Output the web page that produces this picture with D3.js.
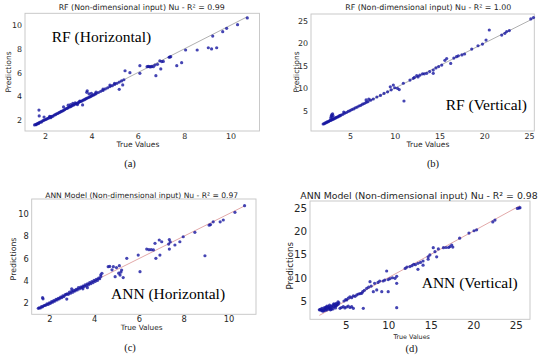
<!DOCTYPE html>
<html><head><meta charset="utf-8">
<script src="https://cdn.jsdelivr.net/npm/d3@7/dist/d3.min.js"></script>
<style>body{margin:0;background:#fff}svg{display:block}</style>
</head><body>
<script>
// ---------- DATA ----------
const titles = [
  "RF (Non-dimensional input) Nu - R\u00B2 = 0.99",
  "RF (Non-dimensional input) Nu - R\u00B2 = 1.00",
  "ANN Model (Non-dimensional input) Nu - R\u00B2 = 0.97",
  "ANN Model (Non-dimensional input) Nu - R\u00B2 = 0.98"
];
const tags = ["RF (Horizontal)", "RF (Vertical)", "ANN (Horizontal)", "ANN (Vertical)"];
const captions = ["(a)", "(b)", "(c)", "(d)"];
const xLabel = "True Values";
const yLabel = "Predictions";
const ticksH = [2, 4, 6, 8, 10];
const ticksV = [5, 10, 15, 20, 25];

// [true, predicted]
const rfHorizontal = [
 [1.55,1.58],[1.6,1.62],[1.62,1.6],[1.65,1.68],[1.7,1.72],[1.72,1.7],[1.75,1.78],[1.8,1.82],[1.85,1.84],[1.9,1.93],
 [1.95,1.97],[2.0,2.02],[2.05,2.06],[2.1,2.12],[2.15,2.15],[2.2,2.23],[2.25,2.28],[2.3,2.3],[2.35,2.33],[2.4,2.42],
 [2.45,2.45],[2.5,2.52],[2.55,2.55],[2.6,2.62],[2.65,2.66],[2.7,2.72],[2.75,2.76],[2.8,2.82],[2.85,2.88],[2.9,2.95],
 [2.95,2.98],[3.0,3.05],[3.05,3.1],[3.1,3.12],[3.15,3.18],[3.2,3.25],[3.25,3.28],[3.3,3.35],[3.35,3.38],[3.4,3.42],
 [3.45,3.48],[3.5,3.55],[3.55,3.58],[3.6,3.62],[3.65,3.68],[3.7,3.72],[3.75,3.78],[3.8,3.83],[3.85,3.88],[3.9,3.92],
 [3.95,3.97],[4.0,4.02],[4.05,4.08],[4.1,4.12],[4.15,4.18],[4.2,4.22],[4.3,4.32],[4.4,4.42],[4.5,4.5],[4.6,4.62],
 [4.7,4.72],[4.8,4.82],[4.9,4.9],[5.0,5.0],[5.1,5.1],[5.2,5.2],[5.3,5.3],[5.4,5.4],
 [1.74,2.84],[1.75,2.34],[1.96,2.25],[2.2,2.3],[2.25,2.2],[2.8,3.1],[3.0,3.25],[3.1,3.3],[3.2,3.4],[3.3,3.45],
 [3.4,3.3],[3.62,3.27],[3.5,3.6],[3.8,4.34],[3.82,4.47],[3.9,4.2],[4.0,4.25],[4.2,4.35],[4.5,4.6],[4.8,4.95],
 [5.0,5.1],[5.2,4.59],[5.35,4.96],[5.45,6.16],[5.66,6.0],[6.09,5.94],[6.09,6.59],[6.4,6.5],[6.45,6.52],[6.5,6.5],
 [6.55,6.48],[6.6,6.52],[6.67,6.5],[6.74,6.64],[6.85,6.7],[6.78,5.74],[6.99,6.31],[6.95,7.0],[7.03,6.93],[7.1,6.95],
 [7.35,7.3],[7.38,7.32],[7.42,7.35],[7.68,6.59],[7.89,6.84],[8.06,7.91],[8.56,7.91],[9.04,8.1],[9.18,8.0],[9.4,8.1],
 [9.23,9.09],[9.66,9.46],[9.83,9.74],[10.3,10.05],[10.72,10.62]
];
const rfVertical = [
 [2.0,2.05],[2.1,2.1],[2.2,2.25],[2.3,2.3],[2.4,2.45],[2.5,2.5],[2.6,2.6],[2.7,2.75],[2.8,2.85],[2.9,2.9],
 [3.0,3.05],[3.1,3.1],[3.2,3.2],[3.3,3.35],[3.4,3.4],[3.5,3.55],[3.6,3.6],[3.7,3.7],[3.8,3.85],[3.9,3.9],
 [4.0,4.05],[4.2,4.2],[4.4,4.45],[4.6,4.6],[4.8,4.85],[5.0,5.0],[5.2,5.25],[5.4,5.4],[5.6,5.65],[5.8,5.8],
 [6.0,6.05],[6.2,6.2],[6.4,6.45],[6.6,6.6],[6.8,6.85],[7.0,7.0],[7.3,7.35],[7.6,7.6],[8.0,8.05],[8.4,8.4],
 [8.8,8.85],[9.2,9.2],[9.6,9.65],
 [2.85,3.4],[2.9,3.8],[2.95,4.1],[3.0,3.6],[3.05,4.3],[3.1,3.9],[4.3,4.7],[6.8,7.4],[7.1,7.6],
 [9.5,10.3],[9.84,10.7],[10.0,10.1],[10.3,9.98],[10.5,9.7],[10.96,11.1],[11.03,7.16],[11.7,11.8],[12.07,12.2],[12.2,12.4],
 [12.45,12.8],[12.6,12.5],[12.8,12.9],[13.1,13.2],[13.3,13.2],[13.57,13.3],[13.9,13.7],[14.3,14.04],[14.3,13.3],[14.6,14.5],
 [14.9,14.8],[15.25,15.15],[15.6,16.2],[15.8,16.6],[16.25,15.5],[16.6,16.7],[16.9,17.0],[17.1,17.2],[17.5,17.4],[17.8,17.6],
 [18.6,18.7],[19.3,19.44],[19.8,19.8],[20.2,20.7],[20.56,22.93],[21.95,21.8],[22.3,22.2],[22.5,22.6],[22.8,22.8],[25.2,25.4],
 [25.5,25.7]
];
const annHorizontal = [
 [1.51,1.55],[1.55,1.6],[1.6,1.58],[1.65,1.7],[1.7,1.68],[1.75,1.78],[1.8,1.82],[1.85,1.84],[1.9,1.95],[1.95,1.9],
 [2.0,2.03],[2.05,2.0],[2.1,2.15],[2.15,2.1],[2.2,2.24],[2.25,2.2],[2.3,2.35],[2.35,2.3],[2.4,2.45],[2.45,2.4],
 [2.5,2.55],[2.55,2.5],[2.6,2.66],[2.65,2.6],[2.7,2.75],[2.75,2.8],[2.8,2.85],[2.85,2.8],[2.9,3.0],[2.95,2.9],
 [3.0,3.1],[3.05,3.0],[3.1,3.15],[3.15,3.1],[3.2,3.25],[3.25,3.2],[3.3,3.4],[3.35,3.3],[3.4,3.45],[3.45,3.4],
 [3.5,3.55],[3.55,3.5],[3.6,3.65],[3.65,3.55],[3.7,3.75],[3.75,3.65],[3.8,3.85],[3.85,3.75],[3.9,3.95],[3.95,3.85],
 [4.0,4.05],[4.05,3.95],[4.1,4.15],[4.15,4.05],[4.2,4.25],[4.25,4.2],[4.3,4.4],[4.35,4.69],[4.3,4.55],
 [1.7,2.5],[1.72,2.4],[2.78,2.38],[3.0,3.3],[3.5,3.3],[3.7,3.4],[4.63,5.28],[4.7,5.3],[4.86,5.28],[5.0,5.2],
 [5.13,5.37],[5.23,4.98],[5.46,6.03],[4.94,4.38],[5.16,4.53],[5.3,4.3],[5.1,4.7],[5.2,4.8],[4.8,5.0],[6.05,4.83],
 [5.97,6.32],[6.35,6.86],[6.45,6.8],[6.55,6.8],[6.65,6.78],[6.72,7.37],[6.76,6.03],[6.91,7.67],[6.94,6.32],[7.02,7.51],
 [7.33,7.3],[7.36,7.71],[7.36,6.86],[7.4,7.5],[7.61,7.22],[7.83,7.51],[7.98,7.96],[8.5,8.36],[8.95,6.26],[9.14,9.0],
 [9.2,9.05],[9.32,9.3],[9.63,9.3],[9.77,9.46],[10.29,10.15],[10.72,10.74]
];
const annVertical = [
 [1.9,3.1],[2.0,3.2],[2.1,3.0],[2.2,3.1],[2.3,2.8],[2.4,2.9],[2.5,3.2],[2.6,3.0],[2.7,3.3],[2.8,3.1],
 [2.9,3.5],[3.0,3.3],[3.0,3.8],[3.1,3.6],[3.2,3.4],[3.3,3.9],[3.4,3.7],[3.5,4.1],[3.6,3.8],[3.7,4.3],
 [3.8,3.9],[3.9,4.5],[4.0,4.2],[4.1,4.8],[4.2,4.6],[2.6,3.6],[2.8,3.9],[3.2,3.1],[3.5,3.3],[3.8,3.5],
 [2.2,3.4],[2.45,3.5],[2.7,3.7],[3.1,4.1],[3.3,3.2],[3.6,4.4],[3.9,4.0],[4.1,4.3],
 [4.33,3.43],[4.5,3.6],[4.72,3.78],[4.9,3.5],[5.1,3.7],[5.3,3.9],[5.5,3.6],[5.7,3.78],[5.9,3.43],[7.07,3.43],[11.0,3.56],
 [4.8,5.0],[5.0,5.3],[5.12,5.21],[5.3,5.6],[5.5,5.9],[5.7,5.7],[5.9,6.1],[6.1,6.0],[6.3,6.3],[6.5,6.5],
 [6.7,6.6],[6.88,6.65],[7.0,7.0],[7.2,7.3],[7.47,7.73],[7.7,8.0],[7.86,9.15],[8.0,8.2],[8.25,7.0],[8.4,8.8],
 [8.65,7.37],[8.8,9.0],[9.0,9.3],[9.24,7.0],[9.4,9.3],[9.6,9.5],[9.82,11.45],[10.0,7.0],[10.0,9.6],[10.2,9.8],
 [10.5,10.0],[10.8,9.88],[11.0,8.8],[11.0,10.3],
 [12.0,12.0],[12.2,12.3],[12.55,12.4],[12.8,12.6],[13.0,12.9],[13.2,12.8],[13.5,13.1],[13.5,11.8],[13.8,13.3],[14.1,13.6],
 [14.1,12.7],[14.7,13.97],[14.7,14.5],[14.9,14.9],[15.3,16.46],[15.5,15.6],[15.7,14.5],[15.9,16.2],[16.5,16.46],[16.8,16.5],
 [17.1,16.5],[17.27,16.7],[17.47,17.04],[17.6,16.6],[18.4,18.5],[19.5,19.6],[20.1,20.1],[20.4,20.3],[22.3,22.0],[22.56,22.4],
 [25.2,24.9],[25.4,25.0],[25.5,25.07]
];

// ---------- LAYOUT ----------
const panels = [
 {data: rfHorizontal, ticks: ticksH, box:[25,13.3,259.5,131], xd:[1.138,11.246], yd:[1.071,11.01],
  line:"#b0b0b0", fs:7.9, tfs:7.85, xfs:7.5, yfs:7.5, title:[141.7,9.8], xl:[138,146.5], yl:[8.5,72], cap:[130,167],
  tag:[51.7,41.7], tagAnchor:"start"},
 {data: rfVertical, ticks: ticksV, box:[311,14,534.3,131], xd:[0.642,25.59], yd:[0.49,26.49],
  line:"#b0b0b0", fs:7.9, tfs:7.85, xfs:7.5, yfs:7.5, title:[428.3,9.8], xl:[428,146.5], yl:[296,72], cap:[433,167],
  tag:[527,110], tagAnchor:"end"},
 {data: annHorizontal, ticks: ticksH, box:[31.7,199,256,314.3], xd:[1.214,11.23], yd:[1.015,11.34],
  line:"#e2a9a9", fs:8.3, tfs:7.6, xfs:7.3, yfs:7.8, title:[141.7,198], xl:[141.7,330], yl:[13.5,259], cap:[130,351],
  tag:[111,299], tagAnchor:"start"},
 {data: annVertical, ticks: ticksV, box:[310,201,530,319.3], xd:[0.8,26.68], yd:[1.06,26.5],
  line:"#e2a9a9", fs:10.3, tfs:9.35, xfs:6.4, yfs:8.7, title:[419,198.5], xl:[411.7,338.5], yl:[290,265.7], cap:[411.7,351.5],
  tag:[517.7,288.3], tagAnchor:"end"}
];

const W = 550, H = 355;
const svg = d3.select("body").append("svg").attr("width", W).attr("height", H);
const sans = "DejaVu Sans, sans-serif";
const serif = "Liberation Serif, Times New Roman, serif";

panels.forEach((p, i) => {
  const [x0, y0, x1, y1] = p.box;
  const x = d3.scaleLinear().domain(p.xd).range([x0, x1]);
  const y = d3.scaleLinear().domain(p.yd).range([y1, y0]);
  const g = svg.append("g");

  g.append("rect").attr("x", x0).attr("y", y0).attr("width", x1 - x0).attr("height", y1 - y0)
    .attr("fill", "#fff").attr("stroke", "#c4c4c4").attr("stroke-width", 0.9);

  const xa = g.append("g").attr("transform", `translate(0,${y1})`)
    .call(d3.axisBottom(x).tickValues(p.ticks).tickSize(0).tickPadding(2).tickFormat(d3.format("d")));
  const ya = g.append("g").attr("transform", `translate(${x0},0)`)
    .call(d3.axisLeft(y).tickValues(p.ticks).tickSize(0).tickPadding(3).tickFormat(d3.format("d")));
  [xa, ya].forEach(a => {
    a.select(".domain").remove();
    a.selectAll("text").attr("font-family", sans).attr("font-size", p.fs).attr("fill", "#262626");
  });

  const ext = d3.extent(p.data, d => d[0]);
  g.append("line").attr("x1", x(ext[0])).attr("y1", y(ext[0])).attr("x2", x(ext[1])).attr("y2", y(ext[1]))
    .attr("stroke", p.line).attr("stroke-width", 1);

  g.append("g").selectAll("circle").data(p.data).join("circle")
    .attr("cx", d => x(d[0])).attr("cy", d => y(d[1])).attr("r", 1.6)
    .attr("fill", "#1616a0").attr("fill-opacity", 0.8);

  g.append("text").attr("x", p.title[0]).attr("y", p.title[1]).attr("text-anchor", "middle")
    .attr("font-family", sans).attr("font-size", p.tfs).attr("fill", "#262626").text(titles[i]);
  g.append("text").attr("x", p.xl[0]).attr("y", p.xl[1]).attr("text-anchor", "middle")
    .attr("font-family", sans).attr("font-size", p.xfs).attr("fill", "#262626").text(xLabel);
  g.append("text").attr("transform", `translate(${p.yl[0]},${p.yl[1]}) rotate(-90)`)
    .attr("text-anchor", "middle").attr("dominant-baseline", "central")
    .attr("font-family", sans).attr("font-size", p.yfs).attr("fill", "#262626").text(yLabel);
  g.append("text").attr("x", p.cap[0]).attr("y", p.cap[1]).attr("text-anchor", "middle")
    .attr("font-family", serif).attr("font-size", 10.5).attr("fill", "#111").text(captions[i]);
  g.append("text").attr("x", p.tag[0]).attr("y", p.tag[1]).attr("text-anchor", p.tagAnchor)
    .attr("font-family", serif).attr("font-size", 15.5).attr("fill", "#000").text(tags[i]);
});
</script>
</body></html>
